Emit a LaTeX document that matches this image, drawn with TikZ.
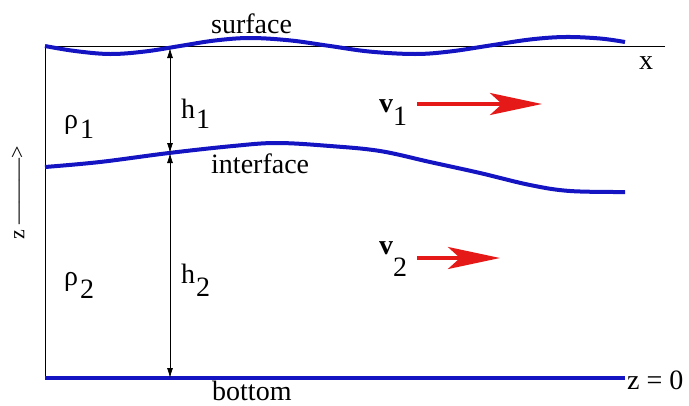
\documentclass[tikz,border=0pt]{standalone}
\usepackage{fontspec}
\setmainfont{Liberation Serif}
\usetikzlibrary{arrows.meta}
\definecolor{wblue}{RGB}{20,20,195}
\definecolor{vred}{RGB}{230,25,25}
\tikzset{
  lbl/.style={inner sep=0pt, anchor=base west, font=\fontsize{28}{32}\selectfont},
  wave/.style={draw=wblue, line width=4pt, line cap=butt},
  axisline/.style={draw=black, line width=0.9pt},
  harrow/.style={draw=black, line width=0.8pt, {Latex[length=10pt,width=6pt]}-{Latex[length=10pt,width=6pt]}},
  varrow/.style={draw=vred, line width=3.5pt, -{Stealth[length=52pt,width=22pt,inset=12pt]}}
}
\begin{document}
\begin{tikzpicture}[x=1pt,y=-1pt]
\useasboundingbox (0,0) rectangle (689,405);
% axes
\coordinate (tl) at (45,46);
\coordinate (tr) at (665,46);
\coordinate (bl) at (45,378);
\coordinate (br) at (625,378);
\draw[axisline] (tr) -- (tl) -- (bl);
% surface
\draw[wave] plot[smooth, tension=0.6] coordinates {(45,46) (75,51) (110,54) (145,51.5) (180,46) (215,40.5) (250,38) (290,40.4) (330,46) (370,51.6) (415,54) (450,51.5) (490,45.5) (530,39.5) (565,37) (600,38.5) (625,42)};
% interface
\draw[wave] plot[smooth, tension=0.6] coordinates {(45,167) (100,162) (169,153) (233,146) (277,143) (330,146) (380,151) (430,162) (480,173) (530,185) (570,191) (625,192)};
% bottom
\draw[wave, line width=4.5pt] (bl) -- (br);
% thickness arrows
\coordinate (hs) at (170,48);
\coordinate (hi) at (170,153);
\coordinate (hb) at (170,378);
\draw[harrow] (hs) -- (hi);
\draw[harrow] (hi) -- (hb);
% labels
\node[lbl] (surf) at (211,33) {surface};
\node[lbl] (intf) at (211,173) {interface};
\node[lbl] (bot) at (212,400) {bottom};
\node[lbl, anchor=center] (xl) at (646,63) {x};
\node[lbl] (z0) at (627,389) {z = 0};
\node[lbl] (rho1) at (64,128) {ρ\hspace{2pt}\raisebox{-10pt}{1}};
\node[lbl] (rho2) at (64,285) {ρ\hspace{2pt}\raisebox{-13pt}{2}};
\node[lbl] (h1) at (181,118) {h\hspace{1pt}\raisebox{-10pt}{1}};
\node[lbl] (h2) at (181,283) {h\hspace{1pt}\raisebox{-13pt}{2}};
\node[lbl] (v1) at (379,112) {\textbf{v}\raisebox{-13pt}{1}};
\node[lbl] (v2) at (379,254) {\textbf{v}\raisebox{-22pt}{2}};
\node[inner sep=0pt, rotate=90, font=\fontsize{22}{24}\selectfont] (zl) at (18,193) {z ———>};
% velocity arrows
\coordinate (v1a) at (417,104);
\coordinate (v1b) at (542,104);
\coordinate (v2a) at (417,258);
\coordinate (v2b) at (500,258);
\draw[varrow] (v1a) -- (v1b);
\draw[varrow] (v2a) -- (v2b);
\end{tikzpicture}
\end{document}
